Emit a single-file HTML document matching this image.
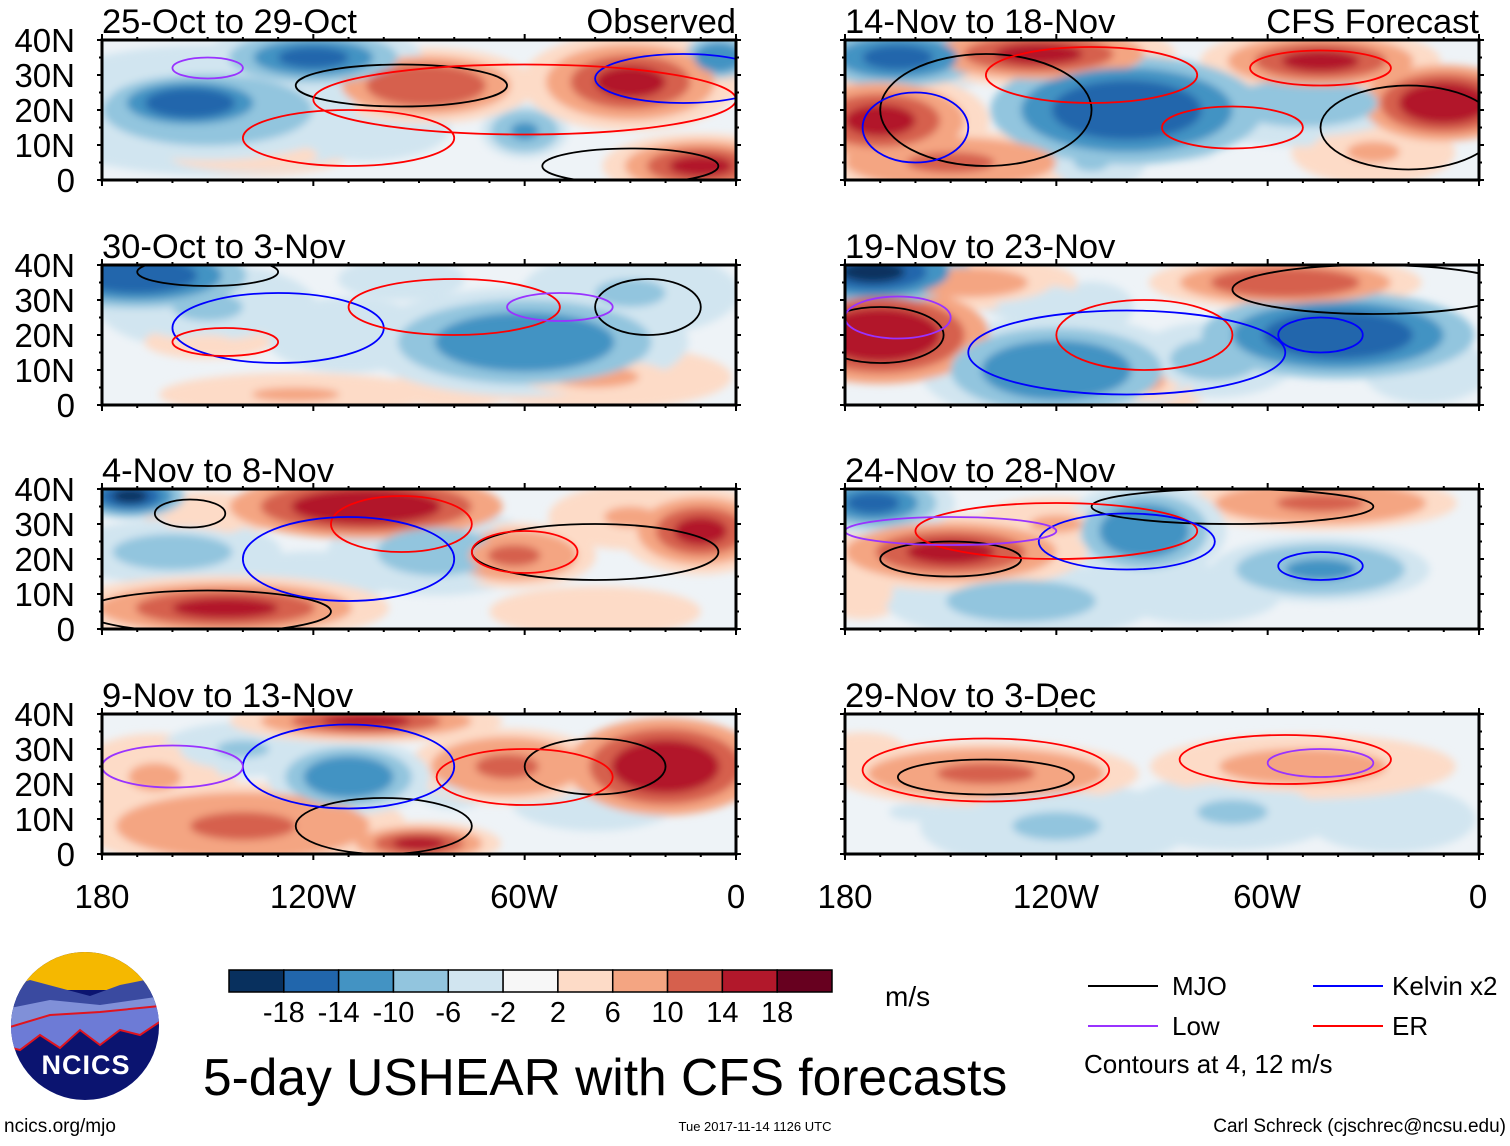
<!DOCTYPE html>
<html><head><meta charset="utf-8">
<style>
html,body{margin:0;padding:0;background:#fff;}
body{width:1510px;height:1141px;overflow:hidden;font-family:"Liberation Sans",Arial,sans-serif;}
svg text{font-family:"Liberation Sans",Arial,sans-serif;}
</style></head>
<body>
<svg id="fig" width="1510" height="1141" viewBox="0 0 1510 1141" xmlns="http://www.w3.org/2000/svg">
<defs>
<filter id="blur" x="-50%" y="-50%" width="200%" height="200%"><feGaussianBlur stdDeviation="4"/></filter>
</defs>
<g id="panels"></g>
<g font-size="33" text-anchor="middle">
<text x="102" y="908">180</text><text x="313" y="908">120W</text><text x="524" y="908">60W</text><text x="736" y="908">0</text>
<text x="845" y="908">180</text><text x="1056" y="908">120W</text><text x="1267" y="908">60W</text><text x="1478" y="908">0</text>
</g>
<g id="cbar"></g>
<text x="885" y="1006" font-size="28">m/s</text>
<g font-size="26">
<line x1="1088" y1="986" x2="1158" y2="986" stroke="#000" stroke-width="2"/><text x="1172" y="995">MJO</text>
<line x1="1313" y1="986" x2="1383" y2="986" stroke="#0000ff" stroke-width="2"/><text x="1392" y="995">Kelvin x2</text>
<line x1="1088" y1="1026" x2="1158" y2="1026" stroke="#9933ff" stroke-width="2"/><text x="1172" y="1035">Low</text>
<line x1="1313" y1="1026" x2="1383" y2="1026" stroke="#ff0000" stroke-width="2"/><text x="1392" y="1035">ER</text>
<text x="1084" y="1073">Contours at 4, 12 m/s</text>
</g>
<text x="203" y="1095" font-size="51.5">5-day USHEAR with CFS forecasts</text>
<text x="4" y="1132" font-size="19">ncics.org/mjo</text>
<text x="755" y="1131" font-size="13" text-anchor="middle">Tue 2017-11-14 1126 UTC</text>
<text x="1506" y="1132" font-size="19" text-anchor="end">Carl Schreck (cjschrec@ncsu.edu)</text>
<g>
<clipPath id="logoclip"><ellipse cx="85" cy="1026" rx="74" ry="74"/></clipPath>
<g clip-path="url(#logoclip)">
<rect x="0" y="950" width="170" height="160" fill="#0b1470"/>
<rect x="0" y="950" width="170" height="40" fill="#f5b800"/>
<path d="M0 990 L30 980 L60 988 L90 996 L120 985 L170 975 L170 1010 L0 1030Z" fill="#3a4aa0"/>
<path d="M0 1010 L50 1000 L100 1005 L170 995 L170 1020 L0 1040Z" fill="#8090d8"/>
<path d="M0 1030 L50 1015 L100 1012 L170 1005 L170 1015 L140 1035 L120 1030 L100 1045 L80 1030 L60 1048 L40 1035 L20 1050 L0 1045Z" fill="#6d7bd6" stroke="#e0141e" stroke-width="2"/>
</g>
<text x="86" y="1074" font-size="27" font-weight="bold" fill="#fff" text-anchor="middle" letter-spacing="1">NCICS</text>
</g>
</svg>
<script>
// ---- data ----
const panelTitles = ["25-Oct to 29-Oct","30-Oct to 3-Nov","4-Nov to 8-Nov","9-Nov to 13-Nov",
                     "14-Nov to 18-Nov","19-Nov to 23-Nov","24-Nov to 28-Nov","29-Nov to 3-Dec"];
const latTicks = ["40N","30N","20N","10N","0"];
const latTickValues = [40,30,20,10,0];
const cbarLevels = [-18,-14,-10,-6,-2,2,6,10,14,18];
const cbarColors = ["#08305e","#2166ac","#4393c3","#92c5de","#d1e5f0","#f7f7f7","#fddbc7","#f4a582","#d6604d","#b2182b","#67001f"];
// blobs: [lon, lat, halfWidthDeg, halfHeightDeg, shear m/s]
const blobs0 = [[-150,20,35,12,-8],[-155,22,15,5,-16],[-120,35,20,6,-14],[-88,27,20,7,12],[-30,28,20,9,14],[-60,14,8,5,-10],[-10,4,18,6,14],[-140,7,25,5,4],[-105,15,20,8,-4],[-5,35,8,5,-12],[-65,30,15,6,-2]];
const blobs1 = [[-170,37,20,6,-16],[-60,18,30,10,-12],[-150,28,20,8,-6],[-125,3,25,4,6],[-40,8,25,6,6],[-110,20,20,9,-4],[-30,32,20,8,-6],[-150,18,15,4,4],[-80,5,15,5,4],[-95,36,15,5,-4]];
const blobs2 = [[-145,6,30,6,14],[-105,35,25,6,16],[-160,22,20,6,-8],[-85,22,20,8,-8],[-63,21,15,6,10],[-10,28,15,8,14],[-30,32,15,6,6],[-40,5,25,6,4],[-172,38,10,4,-18],[-150,32,15,6,4],[-120,15,20,6,-4]];
const blobs3 = [[-140,8,30,8,10],[-105,38,25,4,14],[-90,3,15,4,14],[-110,22,15,7,-12],[-65,25,18,7,10],[-20,25,18,9,16],[-165,22,15,8,6],[-40,15,20,7,-4],[-140,30,15,5,-6],[-80,20,10,6,-4]];
const blobs4 = [[-165,35,20,7,-14],[-170,17,20,9,14],[-125,36,25,6,14],[-100,20,25,10,-16],[-45,34,22,6,14],[-10,22,15,7,16],[-50,22,25,8,-8],[-30,8,15,6,6],[-150,5,25,6,10],[-85,8,20,5,-2],[-110,5,10,5,-6]];
const blobs5 = [[-172,38,18,6,-18],[-170,20,20,9,16],[-55,35,25,5,12],[-40,20,25,8,-16],[-120,10,25,10,-12],[-110,28,10,6,-4],[-75,13,15,7,-8],[-95,7,12,7,6],[-145,35,20,5,8],[-15,10,15,8,-4],[-125,30,15,5,-4]];
const blobs6 = [[-150,22,25,7,14],[-172,36,15,6,-14],[-45,36,25,5,10],[-95,28,15,9,-12],[-45,17,20,6,-10],[-130,8,25,7,-8],[-175,10,10,6,4],[-80,10,20,7,-4],[-120,30,15,5,6]];
const blobs7 = [[-140,23,28,6,10],[-50,25,28,6,8],[-120,8,25,8,-6],[-70,12,20,7,-6],[-175,30,10,4,4],[-25,10,20,8,-4],[-160,12,15,5,-2]];
const panelBlobs = [blobs0,blobs1,blobs2,blobs3,blobs4,blobs5,blobs6,blobs7];
// contours: [lon, lat, halfWidthDeg, halfHeightDeg, type]  type: 0 MJO,1 Kelvin,2 Low,3 ER
const cont0 = [[-95,27,30,6,0],[-15,29,25,7,1],[-60,23,60,10,3],[-150,32,10,3,2],[-110,12,30,8,3],[-30,4,25,5,0]];
const cont1 = [[-25,28,15,8,0],[-130,22,30,10,1],[-80,28,30,8,3],[-145,18,15,4,3],[-50,28,15,4,2],[-150,38,20,4,0]];
const cont2 = [[-150,5,35,6,0],[-40,22,35,8,0],[-95,30,20,8,3],[-60,22,15,6,3],[-110,20,30,12,1],[-155,33,10,4,0]];
const cont3 = [[-100,8,25,8,0],[-40,25,20,8,0],[-60,22,25,8,3],[-110,25,30,12,1],[-160,25,20,6,2]];
const cont4 = [[-140,20,30,16,0],[-20,15,25,12,0],[-110,30,30,8,3],[-45,32,20,5,3],[-160,15,15,10,1],[-70,15,20,6,3]];
const cont5 = [[-170,20,18,8,0],[-30,33,40,7,0],[-95,20,25,10,3],[-100,15,45,12,1],[-45,20,12,5,1],[-165,25,15,6,2]];
const cont6 = [[-150,20,20,5,0],[-70,35,40,5,0],[-120,28,40,8,3],[-45,18,12,4,1],[-100,25,25,8,1],[-150,28,30,4,2]];
const cont7 = [[-140,22,25,5,0],[-140,24,35,9,3],[-55,27,30,7,3],[-45,26,15,4,2]];
const panelContours = [cont0,cont1,cont2,cont3,cont4,cont5,cont6,cont7];
const contourColors = ["#000000","#0000ff","#9933ff","#ff0000"];

// ---- layout ----
const NS="http://www.w3.org/2000/svg";
const colX=[102,845], rowY=[40,265,489,714], PW=634, PH=140;
const layerScale=[1.55,1.2,0.85,0.5], layerFrac=[0.4,0.7,0.92,1.12];
function mk(tag,attrs,parent){const e=document.createElementNS(NS,tag);for(const k in attrs)e.setAttribute(k,attrs[k]);parent.appendChild(e);return e;}
function colorFor(v){let i=0;while(i<cbarLevels.length && v>=cbarLevels[i])i++;return cbarColors[i];}
const root=document.getElementById('panels');
for(let p=0;p<8;p++){
  const x0=colX[p<4?0:1], y0=rowY[p%4];
  const xs=lon=>x0+(lon+180)/180*PW;
  const ys=lat=>y0+PH-lat/40*PH;
  const g=mk('g',{},root);
  
  
  const cp=mk('clipPath',{id:'clip'+p},g);
  mk('rect',{x:x0,y:y0,width:PW,height:PH},cp);
  const inner=mk('g',{'clip-path':'url(#clip'+p+')'},g);
  mk('rect',{x:x0,y:y0,width:PW,height:PH,fill:'#eef3f7'},inner);
  const fg=mk('g',{filter:'url(#blur)'},inner);
  const layers=[];
  panelBlobs[p].forEach(b=>{layerScale.forEach((s,i)=>layers.push([b,s,b[4]*layerFrac[i]]));});
  layers.sort((a,b)=>Math.abs(a[2])-Math.abs(b[2]));
  layers.forEach(L=>{const b=L[0],s=L[1];
    if(Math.abs(L[2])<2)return;
    const e=mk('ellipse',{cx:xs(b[0]),cy:ys(b[1]),rx:b[2]*s/180*PW,ry:b[3]*s/40*PH,fill:colorFor(L[2])},fg);
    
    
  });
  panelContours[p].forEach(c=>{
    const e=mk('ellipse',{cx:xs(c[0]),cy:ys(c[1]),rx:c[2]/180*PW,ry:c[3]/40*PH,fill:'none',stroke:contourColors[c[4]],'stroke-width':1.8},inner);
    
    
  });
  mk('rect',{x:x0,y:y0,width:PW,height:PH,fill:'none',stroke:'#000','stroke-width':3},g);
  for(let lon=-180;lon<=0;lon+=10){const L=lon%60===0?6:3;
    mk('line',{x1:xs(lon),y1:y0,x2:xs(lon),y2:y0-L,stroke:'#000','stroke-width':2},g);
    mk('line',{x1:xs(lon),y1:y0+PH,x2:xs(lon),y2:y0+PH+L,stroke:'#000','stroke-width':2},g);}
  for(let lat=0;lat<=40;lat+=5){const L=lat%10===0?5:3;
    mk('line',{x1:x0,y1:ys(lat),x2:x0-L,y2:ys(lat),stroke:'#000','stroke-width':2},g);
    mk('line',{x1:x0+PW,y1:ys(lat),x2:x0+PW+L,y2:ys(lat),stroke:'#000','stroke-width':2},g);}
  const t=mk('text',{x:x0,y:y0-7,'font-size':34.5},g);t.textContent=panelTitles[p];
  
  
  if(p===0){const o=mk('text',{x:x0+PW,y:y0-7,'font-size':34.5,'text-anchor':'end'},g);o.textContent='Observed';
    }
  if(p===4){const o=mk('text',{x:x0+PW,y:y0-7,'font-size':34.5,'text-anchor':'end'},g);o.textContent='CFS Forecast';
    }
  if(p<4){latTicks.forEach((lab,i)=>{const tt=mk('text',{x:75,y:ys(latTickValues[i])+12,'font-size':33,'text-anchor':'end'},g);tt.textContent=lab;
    });}
}
const cb=document.getElementById('cbar');const cbx=229,cby=970,cbw=603/11,cbh=22;
cbarColors.forEach((c,i)=>{const r=mk('rect',{x:cbx+i*cbw,y:cby,width:cbw,height:cbh,fill:c,stroke:'#000','stroke-width':1.5},cb);
  });
cbarLevels.forEach((v,i)=>{const t=mk('text',{x:cbx+(i+1)*cbw,y:1022,'font-size':29,'text-anchor':'middle'},cb);t.textContent=v;
  });
</script>
</body></html>
